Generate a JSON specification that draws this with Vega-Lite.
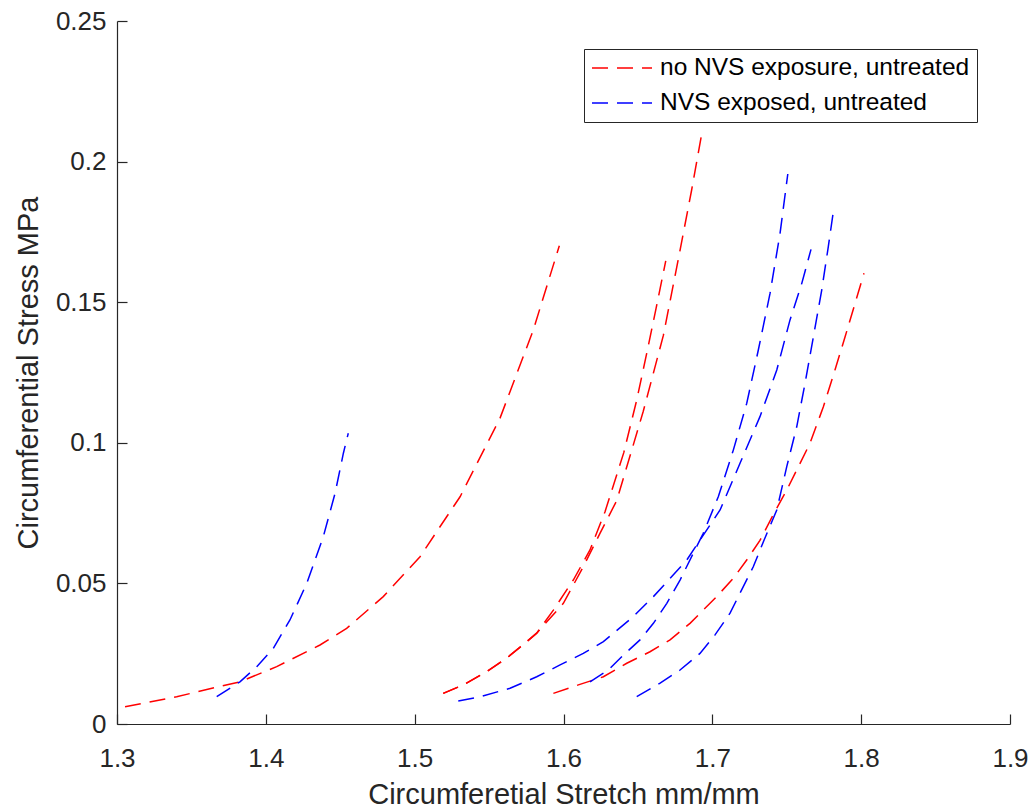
{
  "$schema": "https://vega.github.io/schema/vega-lite/v6.json",
  "width": 893,
  "height": 703,
  "autosize": {"type": "none"},
  "padding": {"left": 117, "top": 21, "right": 24, "bottom": 87},
  "background": "white",
  "config": {
    "view": {"stroke": null},
    "axis": {
      "domainColor": "#262626",
      "tickColor": "#262626",
      "labelColor": "#262626",
      "titleColor": "#262626",
      "labelFont": "Liberation Sans",
      "titleFont": "Liberation Sans",
      "labelFontSize": 26,
      "titleFontSize": 29,
      "titleFontWeight": "normal",
      "grid": false,
      "tickSize": -10,
      "domainWidth": 1.2,
      "tickWidth": 1.2,
      "labelFlush": false,
      "labelOverlap": false
    }
  },
  "data": {
    "values": [
      {"c": "r1", "g": "no NVS exposure, untreated", "x": 1.3054, "y": 0.0061},
      {"c": "r1", "g": "no NVS exposure, untreated", "x": 1.3401, "y": 0.0097},
      {"c": "r1", "g": "no NVS exposure, untreated", "x": 1.367, "y": 0.0131},
      {"c": "r1", "g": "no NVS exposure, untreated", "x": 1.3826, "y": 0.015},
      {"c": "r1", "g": "no NVS exposure, untreated", "x": 1.4073, "y": 0.0204},
      {"c": "r1", "g": "no NVS exposure, untreated", "x": 1.4364, "y": 0.0281},
      {"c": "r1", "g": "no NVS exposure, untreated", "x": 1.4543, "y": 0.034},
      {"c": "r1", "g": "no NVS exposure, untreated", "x": 1.4789, "y": 0.0453},
      {"c": "r1", "g": "no NVS exposure, untreated", "x": 1.5036, "y": 0.0595},
      {"c": "r1", "g": "no NVS exposure, untreated", "x": 1.5215, "y": 0.0737},
      {"c": "r1", "g": "no NVS exposure, untreated", "x": 1.5305, "y": 0.0808},
      {"c": "r1", "g": "no NVS exposure, untreated", "x": 1.5573, "y": 0.1087},
      {"c": "r1", "g": "no NVS exposure, untreated", "x": 1.5797, "y": 0.1401},
      {"c": "r1", "g": "no NVS exposure, untreated", "x": 1.5972, "y": 0.1701},

      {"c": "r2", "g": "no NVS exposure, untreated", "x": 1.5192, "y": 0.0109},
      {"c": "r2", "g": "no NVS exposure, untreated", "x": 1.5327, "y": 0.0139},
      {"c": "r2", "g": "no NVS exposure, untreated", "x": 1.5484, "y": 0.0186},
      {"c": "r2", "g": "no NVS exposure, untreated", "x": 1.5618, "y": 0.0234},
      {"c": "r2", "g": "no NVS exposure, untreated", "x": 1.5753, "y": 0.0293},
      {"c": "r2", "g": "no NVS exposure, untreated", "x": 1.582, "y": 0.0323},
      {"c": "r2", "g": "no NVS exposure, untreated", "x": 1.5932, "y": 0.0405},
      {"c": "r2", "g": "no NVS exposure, untreated", "x": 1.6066, "y": 0.0512},
      {"c": "r2", "g": "no NVS exposure, untreated", "x": 1.6178, "y": 0.0619},
      {"c": "r2", "g": "no NVS exposure, untreated", "x": 1.6279, "y": 0.0755},
      {"c": "r2", "g": "no NVS exposure, untreated", "x": 1.6405, "y": 0.0965},
      {"c": "r2", "g": "no NVS exposure, untreated", "x": 1.6492, "y": 0.1152},
      {"c": "r2", "g": "no NVS exposure, untreated", "x": 1.6559, "y": 0.1318},
      {"c": "r2", "g": "no NVS exposure, untreated", "x": 1.6622, "y": 0.1478},
      {"c": "r2", "g": "no NVS exposure, untreated", "x": 1.6687, "y": 0.1647},

      {"c": "r3", "g": "no NVS exposure, untreated", "x": 1.5192, "y": 0.0109},
      {"c": "r3", "g": "no NVS exposure, untreated", "x": 1.5327, "y": 0.0139},
      {"c": "r3", "g": "no NVS exposure, untreated", "x": 1.5484, "y": 0.0186},
      {"c": "r3", "g": "no NVS exposure, untreated", "x": 1.5618, "y": 0.0234},
      {"c": "r3", "g": "no NVS exposure, untreated", "x": 1.5753, "y": 0.0293},
      {"c": "r3", "g": "no NVS exposure, untreated", "x": 1.582, "y": 0.0323},
      {"c": "r3", "g": "no NVS exposure, untreated", "x": 1.5999, "y": 0.0429},
      {"c": "r3", "g": "no NVS exposure, untreated", "x": 1.6133, "y": 0.0559},
      {"c": "r3", "g": "no NVS exposure, untreated", "x": 1.6245, "y": 0.0678},
      {"c": "r3", "g": "no NVS exposure, untreated", "x": 1.6358, "y": 0.0795},
      {"c": "r3", "g": "no NVS exposure, untreated", "x": 1.6536, "y": 0.1112},
      {"c": "r3", "g": "no NVS exposure, untreated", "x": 1.6671, "y": 0.1382},
      {"c": "r3", "g": "no NVS exposure, untreated", "x": 1.6771, "y": 0.1652},
      {"c": "r3", "g": "no NVS exposure, untreated", "x": 1.6861, "y": 0.1899},
      {"c": "r3", "g": "no NVS exposure, untreated", "x": 1.6933, "y": 0.2112},

      {"c": "r4", "g": "no NVS exposure, untreated", "x": 1.5932, "y": 0.0109},
      {"c": "r4", "g": "no NVS exposure, untreated", "x": 1.61, "y": 0.0139},
      {"c": "r4", "g": "no NVS exposure, untreated", "x": 1.6268, "y": 0.0168},
      {"c": "r4", "g": "no NVS exposure, untreated", "x": 1.6425, "y": 0.0216},
      {"c": "r4", "g": "no NVS exposure, untreated", "x": 1.6581, "y": 0.0257},
      {"c": "r4", "g": "no NVS exposure, untreated", "x": 1.6716, "y": 0.0299},
      {"c": "r4", "g": "no NVS exposure, untreated", "x": 1.685, "y": 0.0358},
      {"c": "r4", "g": "no NVS exposure, untreated", "x": 1.7029, "y": 0.0453},
      {"c": "r4", "g": "no NVS exposure, untreated", "x": 1.7141, "y": 0.0518},
      {"c": "r4", "g": "no NVS exposure, untreated", "x": 1.7231, "y": 0.0583},
      {"c": "r4", "g": "no NVS exposure, untreated", "x": 1.732, "y": 0.0653},
      {"c": "r4", "g": "no NVS exposure, untreated", "x": 1.741, "y": 0.0745},
      {"c": "r4", "g": "no NVS exposure, untreated", "x": 1.75, "y": 0.0832},
      {"c": "r4", "g": "no NVS exposure, untreated", "x": 1.7656, "y": 0.0998},
      {"c": "r4", "g": "no NVS exposure, untreated", "x": 1.7746, "y": 0.1128},
      {"c": "r4", "g": "no NVS exposure, untreated", "x": 1.7824, "y": 0.1259},
      {"c": "r4", "g": "no NVS exposure, untreated", "x": 1.7892, "y": 0.1377},
      {"c": "r4", "g": "no NVS exposure, untreated", "x": 1.7959, "y": 0.1496},
      {"c": "r4", "g": "no NVS exposure, untreated", "x": 1.8019, "y": 0.1603},

      {"c": "b1", "g": "NVS exposed, untreated", "x": 1.367, "y": 0.0097},
      {"c": "b1", "g": "NVS exposed, untreated", "x": 1.3826, "y": 0.015},
      {"c": "b1", "g": "NVS exposed, untreated", "x": 1.3939, "y": 0.0204},
      {"c": "b1", "g": "NVS exposed, untreated", "x": 1.405, "y": 0.0269},
      {"c": "b1", "g": "NVS exposed, untreated", "x": 1.4162, "y": 0.037},
      {"c": "b1", "g": "NVS exposed, untreated", "x": 1.4275, "y": 0.05},
      {"c": "b1", "g": "NVS exposed, untreated", "x": 1.4386, "y": 0.0666},
      {"c": "b1", "g": "NVS exposed, untreated", "x": 1.4465, "y": 0.082},
      {"c": "b1", "g": "NVS exposed, untreated", "x": 1.4521, "y": 0.0963},
      {"c": "b1", "g": "NVS exposed, untreated", "x": 1.4554, "y": 0.1034},

      {"c": "b2", "g": "NVS exposed, untreated", "x": 1.5293, "y": 0.0082},
      {"c": "b2", "g": "NVS exposed, untreated", "x": 1.5439, "y": 0.0097},
      {"c": "b2", "g": "NVS exposed, untreated", "x": 1.5641, "y": 0.0127},
      {"c": "b2", "g": "NVS exposed, untreated", "x": 1.582, "y": 0.0168},
      {"c": "b2", "g": "NVS exposed, untreated", "x": 1.5977, "y": 0.021},
      {"c": "b2", "g": "NVS exposed, untreated", "x": 1.6133, "y": 0.0251},
      {"c": "b2", "g": "NVS exposed, untreated", "x": 1.6268, "y": 0.0293},
      {"c": "b2", "g": "NVS exposed, untreated", "x": 1.6469, "y": 0.0382},
      {"c": "b2", "g": "NVS exposed, untreated", "x": 1.6604, "y": 0.0453},
      {"c": "b2", "g": "NVS exposed, untreated", "x": 1.6716, "y": 0.0518},
      {"c": "b2", "g": "NVS exposed, untreated", "x": 1.6828, "y": 0.0583},
      {"c": "b2", "g": "NVS exposed, untreated", "x": 1.6917, "y": 0.0654},
      {"c": "b2", "g": "NVS exposed, untreated", "x": 1.7052, "y": 0.0761},
      {"c": "b2", "g": "NVS exposed, untreated", "x": 1.7186, "y": 0.0927},
      {"c": "b2", "g": "NVS exposed, untreated", "x": 1.732, "y": 0.1093},
      {"c": "b2", "g": "NVS exposed, untreated", "x": 1.7433, "y": 0.1259},
      {"c": "b2", "g": "NVS exposed, untreated", "x": 1.7522, "y": 0.1437},
      {"c": "b2", "g": "NVS exposed, untreated", "x": 1.7601, "y": 0.1567},
      {"c": "b2", "g": "NVS exposed, untreated", "x": 1.7663, "y": 0.1688},

      {"c": "b3", "g": "NVS exposed, untreated", "x": 1.6178, "y": 0.015},
      {"c": "b3", "g": "NVS exposed, untreated", "x": 1.6301, "y": 0.0192},
      {"c": "b3", "g": "NVS exposed, untreated", "x": 1.6402, "y": 0.0245},
      {"c": "b3", "g": "NVS exposed, untreated", "x": 1.6514, "y": 0.0299},
      {"c": "b3", "g": "NVS exposed, untreated", "x": 1.6604, "y": 0.0358},
      {"c": "b3", "g": "NVS exposed, untreated", "x": 1.6694, "y": 0.0429},
      {"c": "b3", "g": "NVS exposed, untreated", "x": 1.6783, "y": 0.0512},
      {"c": "b3", "g": "NVS exposed, untreated", "x": 1.6872, "y": 0.0607},
      {"c": "b3", "g": "NVS exposed, untreated", "x": 1.6939, "y": 0.0678},
      {"c": "b3", "g": "NVS exposed, untreated", "x": 1.704, "y": 0.0808},
      {"c": "b3", "g": "NVS exposed, untreated", "x": 1.7141, "y": 0.0974},
      {"c": "b3", "g": "NVS exposed, untreated", "x": 1.7231, "y": 0.114},
      {"c": "b3", "g": "NVS exposed, untreated", "x": 1.7309, "y": 0.133},
      {"c": "b3", "g": "NVS exposed, untreated", "x": 1.7388, "y": 0.1532},
      {"c": "b3", "g": "NVS exposed, untreated", "x": 1.7455, "y": 0.1745},
      {"c": "b3", "g": "NVS exposed, untreated", "x": 1.7507, "y": 0.1956},

      {"c": "b4", "g": "NVS exposed, untreated", "x": 1.6492, "y": 0.0097},
      {"c": "b4", "g": "NVS exposed, untreated", "x": 1.6649, "y": 0.0145},
      {"c": "b4", "g": "NVS exposed, untreated", "x": 1.6783, "y": 0.0192},
      {"c": "b4", "g": "NVS exposed, untreated", "x": 1.6917, "y": 0.0251},
      {"c": "b4", "g": "NVS exposed, untreated", "x": 1.7018, "y": 0.0317},
      {"c": "b4", "g": "NVS exposed, untreated", "x": 1.7119, "y": 0.0394},
      {"c": "b4", "g": "NVS exposed, untreated", "x": 1.7197, "y": 0.0477},
      {"c": "b4", "g": "NVS exposed, untreated", "x": 1.7275, "y": 0.0559},
      {"c": "b4", "g": "NVS exposed, untreated", "x": 1.7343, "y": 0.0648},
      {"c": "b4", "g": "NVS exposed, untreated", "x": 1.7433, "y": 0.0761},
      {"c": "b4", "g": "NVS exposed, untreated", "x": 1.75, "y": 0.0915},
      {"c": "b4", "g": "NVS exposed, untreated", "x": 1.7567, "y": 0.1057},
      {"c": "b4", "g": "NVS exposed, untreated", "x": 1.7623, "y": 0.1212},
      {"c": "b4", "g": "NVS exposed, untreated", "x": 1.7679, "y": 0.1377},
      {"c": "b4", "g": "NVS exposed, untreated", "x": 1.7735, "y": 0.1543},
      {"c": "b4", "g": "NVS exposed, untreated", "x": 1.7779, "y": 0.1697},
      {"c": "b4", "g": "NVS exposed, untreated", "x": 1.7813, "y": 0.1822}
    ]
  },
  "mark": {"type": "line", "strokeWidth": 1.5, "strokeDash": [16, 9], "clip": true},
  "encoding": {
    "x": {
      "field": "x",
      "type": "quantitative",
      "scale": {"domain": [1.3, 1.9], "nice": false, "zero": false},
      "axis": {
        "title": "Circumferetial Stretch mm/mm",
        "values": [1.3, 1.4, 1.5, 1.6, 1.7, 1.8, 1.9],
        "format": "~g",
        "labelPadding": 31,
        "titleBaseline": "alphabetic",
        "titleY": 79
      }
    },
    "y": {
      "field": "y",
      "type": "quantitative",
      "scale": {"domain": [0, 0.25], "nice": false},
      "axis": {
        "title": "Circumferential Stress MPa",
        "values": [0, 0.05, 0.1, 0.15, 0.2, 0.25],
        "format": "~g",
        "labelPadding": 21,
        "titleBaseline": "alphabetic",
        "titleX": -80
      }
    },
    "detail": {"field": "c"},
    "color": {
      "field": "g",
      "type": "nominal",
      "scale": {
        "domain": ["no NVS exposure, untreated", "NVS exposed, untreated"],
        "range": ["#ff0000", "#0000ff"]
      },
      "legend": {
        "title": null,
        "orient": "none",
        "legendX": 467,
        "legendY": 28,
        "padding": 7,
        "strokeColor": "#262626",
        "fillColor": "white",
        "symbolType": "stroke",
        "symbolSize": 3600,
        "symbolStrokeWidth": 1.5,
        "symbolDash": [16, 9],
        "clipHeight": 24,
        "rowPadding": 10,
        "labelFont": "Liberation Sans",
        "labelFontSize": 24.5,
        "labelColor": "black",
        "labelOffset": 7,
        "labelLimit": 0
      }
    }
  }
}
